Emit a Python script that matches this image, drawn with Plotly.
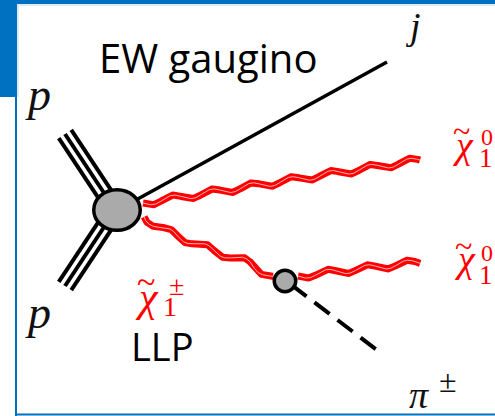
import numpy as np
import plotly.graph_objects as go

W, H = 495, 416
BLUE = "#0070C0"
RED = "#FF0000"
GRAY = "#AAAAAA"

# ---- diagram geometry (pixel coordinates, y grows downward) ----
blob_center = (117, 210)
blob_radius = (25, 22)
vertex_center = (285, 281)
vertex_radius = 12.5
proton_upper = [(65, 134), (112, 205)]
proton_lower = [(65, 286), (112, 215)]
proton_spacing = 7.5
jet_line = [(125, 206), (387, 62)]
chi0_upper_path = [(143, 203), (420, 160)]
chipm_path = [(143, 216), (160, 228), (187, 240), (217, 252), (250, 263), (273, 279)]
chi0_lower_path = [(298, 276), (420, 262)]
pion_line = [(291.4, 284.8), (376.5, 349.7)]

# ---- labels: (text, x, y, size, color, family) ----
sans = "Open Sans"
serif = "Liberation Serif"
labels = [
    ("EW gaugino", 208, 57, 40, "black", sans),
    ("LLP", 162, 346, 38, "black", sans),
    ("<i>j</i>", 413, 26, 38, "#111", serif),
    ("<i>p</i>", 38, 94, 46, "#111", serif),
    ("<i>p</i>", 38, 312, 46, "#111", serif),
    # upper neutralino
    ("<i>\u03c7</i>", 463, 145, 38, RED, serif),
    ("~", 461, 131, 32, RED, serif),
    ("0", 487, 137, 24, RED, serif),
    ("1", 486, 158, 27, RED, serif),
    # lower neutralino
    ("<i>\u03c7</i>", 465, 259, 38, RED, serif),
    ("~", 463, 246, 32, RED, serif),
    ("0", 487, 253, 24, RED, serif),
    ("1", 486, 275, 27, RED, serif),
    # chargino
    ("<i>\u03c7</i>", 147, 297, 42, RED, serif),
    ("~", 146, 281, 34, RED, serif),
    ("\u00b1", 176, 285, 28, RED, serif),
    ("1", 170, 306, 28, RED, serif),
    # pion
    ("<i>\u03c0</i>", 419, 395, 38, "#111", serif),
    ("\u00b1", 448, 381, 32, "#111", serif),
]


def smooth(a, w):
    pad = np.pad(a, (w, w), mode="edge")
    k = np.ones(2 * w + 1) / (2 * w + 1)
    return np.convolve(pad, k, mode="same")[w:-w]


def wavy(pts, wl=40.0, amp=3.2, n=800):
    pts = np.array(pts, float)
    seg = np.diff(pts, axis=0)
    L = np.hypot(seg[:, 0], seg[:, 1])
    cum = np.concatenate([[0], np.cumsum(L)])
    s = np.linspace(0, cum[-1], n)
    x = np.interp(s, cum, pts[:, 0])
    y = np.interp(s, cum, pts[:, 1])
    if len(pts) > 2:
        x = smooth(x, 30)
        y = smooth(y, 30)
    dx = np.gradient(x)
    dy = np.gradient(y)
    nn = np.hypot(dx, dy)
    nx, ny = -dy / nn, dx / nn
    off = amp * np.sin(2 * np.pi * s / wl)
    return x + nx * off, y + ny * off


fig = go.Figure()


def add_line(xs, ys, color, width, dash=None):
    fig.add_trace(go.Scatter(x=list(xs), y=list(ys), mode="lines",
                             line=dict(color=color, width=width, dash=dash),
                             hoverinfo="skip", showlegend=False))


# proton triple lines
for (p0, p1) in (proton_upper, proton_lower):
    d = np.array(p1, float) - np.array(p0, float)
    d /= np.hypot(*d)
    perp = np.array([d[1], -d[0]])
    for k in (-1, 0, 1):
        a = np.array(p0) + k * proton_spacing * perp
        b = np.array(p1) + k * proton_spacing * perp
        add_line([a[0], b[0]], [a[1], b[1]], "black", 4)

# jet
add_line([jet_line[0][0], jet_line[1][0]], [jet_line[0][1], jet_line[1][1]], "black", 3.5)

# pion dashed
add_line([pion_line[0][0], pion_line[1][0]], [pion_line[0][1], pion_line[1][1]],
         "black", 4, dash="19px,10px")

# gaugino wavy double lines
for path in (chi0_upper_path, chipm_path, chi0_lower_path):
    xw, yw = wavy(path)
    add_line(xw, yw, RED, 7)
    add_line(xw, yw, "rgba(255,255,255,0.7)", 1.0)

shapes = [
    dict(type="rect", x0=0, x1=W, y0=0, y1=4, fillcolor=BLUE, line_width=0, layer="below"),
    dict(type="rect", x0=0, x1=17, y0=0, y1=97, fillcolor=BLUE, line_width=0, layer="below"),
    dict(type="line", x0=17, x1=W, y0=5, y1=5, line=dict(color="#BDD7EE", width=1), layer="below"),
    dict(type="line", x0=18, x1=18, y0=5, y1=97, line=dict(color="#BDD7EE", width=1), layer="below"),
    dict(type="line", x0=16, x1=16, y0=97, y1=H, line=dict(color=BLUE, width=2), layer="below"),
    dict(type="line", x0=16, x1=W, y0=414.5, y1=414.5, line=dict(color=BLUE, width=2), layer="below"),
]
lw = 3.5
cx, cy = blob_center
rx, ry = blob_radius[0] - lw / 2, blob_radius[1] - lw / 2
shapes.append(dict(type="circle", x0=cx - rx, x1=cx + rx, y0=cy - ry, y1=cy + ry,
                   fillcolor=GRAY, line=dict(color="black", width=lw), layer="above"))
vx, vy = vertex_center
vr = vertex_radius - lw / 2
shapes.append(dict(type="circle", x0=vx - vr, x1=vx + vr, y0=vy - vr, y1=vy + vr,
                   fillcolor=GRAY, line=dict(color="black", width=lw), layer="above"))

annotations = [dict(text=t, x=x, y=y, xref="x", yref="y", showarrow=False,
                    xanchor="center", yanchor="middle", borderpad=0,
                    font=dict(family=f, size=s, color=c))
               for (t, x, y, s, c, f) in labels]

fig.update_layout(
    width=W, height=H, autosize=False,
    margin=dict(l=0, r=0, t=0, b=0),
    paper_bgcolor="white", plot_bgcolor="white",
    xaxis=dict(range=[0, W], visible=False, fixedrange=True),
    yaxis=dict(range=[H, 0], visible=False, fixedrange=True),
    shapes=shapes, annotations=annotations,
)
fig.write_html("out.html", config={"displayModeBar": False},
               post_script="document.body.style.margin='0px';document.body.style.overflow='hidden';")
